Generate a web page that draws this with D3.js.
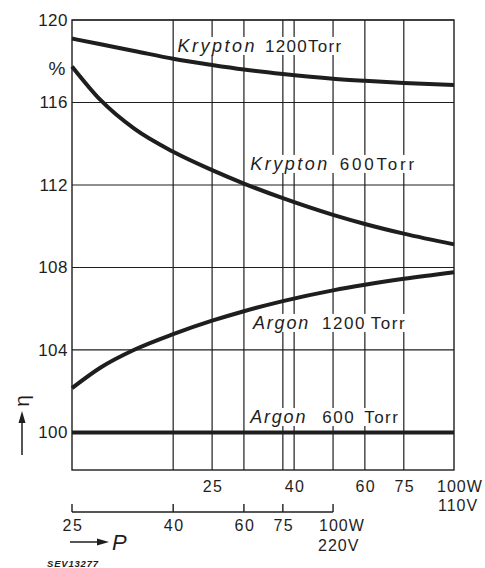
<!DOCTYPE html>
<html>
<head>
<meta charset="utf-8">
<script src="https://cdn.jsdelivr.net/npm/d3@7"></script>
<style>
    body { margin: 0; background: #fff; }
    svg { display: block; }
    text { font-family: "Liberation Sans", Arial, sans-serif; fill: #1e1e1e; }
</style>
</head>
<body>
<div id="chart"></div>
<script>
// power of the lamp on the 110 V scale (W)
const power = [11.2, 13.2, 16, 20, 25, 30, 37.5, 50, 60, 75, 100];
// relative luminous efficiency eta (%)
const krypton1200 = [119.1, 118.82, 118.5, 118.12, 117.82, 117.6, 117.38, 117.15, 117.05, 116.95, 116.85];
const krypton600 = [117.75, 116.11, 114.73, 113.61, 112.72, 112.07, 111.36, 110.55, 110.11, 109.64, 109.12];
const argon1200 = [102.15, 103.15, 104.01, 104.77, 105.42, 105.88, 106.37, 106.89, 107.16, 107.45, 107.77];
const argon600 = [100, 100, 100, 100, 100, 100, 100, 100, 100, 100, 100];

const yTicks = [100, 104, 108, 112, 116, 120];
const ticks110 = [25, 40, 60, 75, 100];
const ticks220 = [25, 40, 60, 75, 100];

const width = 485, height = 568;
const ink = "#1e1e1e";

let svg = d3.select("#chart").append("svg")
    .attr("width", width)
    .attr("height", height);

let x = d3.scaleLog().domain([11.2, 100]).range([72, 454]);
let y = d3.scaleLinear().domain([98.18, 120]).range([470, 20]);
// a 220 V lamp sits where the 110 V lamp of half the power sits (25 W drawn at the left edge)
let x220 = d3.scaleLog().domain([25, 40, 200]).range([x(11.2), x(20), x(100)]);

// grid
let grid = svg.append("g").attr("stroke", ink).attr("stroke-width", 1.2);

grid.selectAll(".hgrid")
    .data(yTicks)
    .enter().append("line")
    .attr("x1", x(11.2)).attr("x2", x(100))
    .attr("y1", d => y(d)).attr("y2", d => y(d));

let vgrid = ticks110.filter(d => d < 100).map(d => x(d))
    .concat(ticks220.filter(d => d > 25).map(d => x220(d)));

grid.selectAll(".vgrid")
    .data(vgrid)
    .enter().append("line")
    .attr("x1", d => d).attr("x2", d => d)
    .attr("y1", y(120)).attr("y2", y(98.18));

// frame
svg.append("rect")
    .attr("x", x(11.2)).attr("y", y(120))
    .attr("width", x(100) - x(11.2))
    .attr("height", y(98.18) - y(120))
    .attr("fill", "none")
    .attr("stroke", ink)
    .attr("stroke-width", 1.4);

// labels of the curves (white behind, like the original)
let labels = [
    {w: 20.5, v: 118.45, parts: [["Krypton", true, 2.5], ["1200Torr", false, 1.3]], gaps: [8]},
    {w: 31.1, v: 112.73, parts: [["Krypton", true, 2.5], ["600Torr", false, 2.8]], gaps: [10]},
    {w: 31.6, v: 105.02, parts: [["Argon", true, 1.8], ["1200", false, 1.5], ["Torr", false, 1.5]], gaps: [12, 5]},
    {w: 31.1, v: 100.46, parts: [["Argon", true, 1.8], ["600", false, 1.5], ["Torr", false, 1.5]], gaps: [15, 9]}
];

let labelG = svg.append("g");
labels.forEach(l => {
    let t = labelG.append("text")
        .attr("x", x(l.w))
        .attr("y", y(l.v));
    l.parts.forEach((p, i) => {
        t.append("tspan")
            .attr("dx", i === 0 ? 0 : l.gaps[i - 1])
            .attr("font-size", p[1] ? 18 : 17)
            .attr("font-style", p[1] ? "italic" : "normal")
            .attr("letter-spacing", p[2])
            .text(p[0]);
    });
    let bb = t.node().getBBox();
    labelG.insert("rect", "text")
        .attr("x", bb.x - 2).attr("y", bb.y + 1)
        .attr("width", bb.width + 4).attr("height", bb.height - 2)
        .attr("fill", "#fff");
});

// curves
let line = d3.line()
    .x((d, i) => x(power[i]))
    .y(d => y(d))
    .curve(d3.curveMonotoneX);

[krypton1200, krypton600, argon1200, argon600].forEach(s => {
    svg.append("path")
        .datum(s)
        .attr("d", line)
        .attr("fill", "none")
        .attr("stroke", ink)
        .attr("stroke-width", 4)
        .attr("stroke-linecap", "butt");
});

// y labels
svg.selectAll(".ylab")
    .data(yTicks)
    .enter().append("text")
    .attr("x", 68)
    .attr("y", d => y(d) + 6)
    .attr("text-anchor", "end")
    .attr("font-size", 17)
    .attr("letter-spacing", 0.5)
    .text(d => d);

svg.append("text")
    .attr("x", 57).attr("y", 75)
    .attr("text-anchor", "middle")
    .attr("font-size", 19)
    .text("%");

// eta arrow
svg.append("line")
    .attr("x1", 22).attr("x2", 22)
    .attr("y1", 455).attr("y2", 420)
    .attr("stroke", ink).attr("stroke-width", 1.5);
svg.append("path")
    .attr("d", "M22,411 L18.5,423 L25.5,423 Z")
    .attr("fill", ink);
svg.append("text")
    .attr("transform", "translate(29,401) rotate(-90)")
    .attr("text-anchor", "middle")
    .attr("font-size", 21)
    .text("η");

// 110 V scale
svg.selectAll(".x110")
    .data(ticks110.filter(d => d < 100))
    .enter().append("text")
    .attr("x", d => x(d) + 1)
    .attr("y", 492)
    .attr("text-anchor", "middle")
    .attr("font-size", 16)
    .attr("letter-spacing", 1.5)
    .text(d => d);

svg.append("text")
    .attr("x", x(100) - 17).attr("y", 492)
    .attr("font-size", 16)
    .attr("letter-spacing", 1)
    .text("100W");
svg.append("text")
    .attr("x", x(100) - 16).attr("y", 511)
    .attr("font-size", 16)
    .attr("letter-spacing", 1)
    .text("110V");

// 220 V scale
let ax = svg.append("g").attr("stroke", ink).attr("stroke-width", 1.4);
ax.append("line")
    .attr("x1", x220(25)).attr("x2", x220(100))
    .attr("y1", 512).attr("y2", 512);
ax.selectAll(".t220")
    .data(ticks220)
    .enter().append("line")
    .attr("x1", d => x220(d)).attr("x2", d => x220(d))
    .attr("y1", 512).attr("y2", 504);

svg.selectAll(".x220")
    .data(ticks220.filter(d => d < 100))
    .enter().append("text")
    .attr("x", d => x220(d) + 1)
    .attr("y", 531)
    .attr("text-anchor", "middle")
    .attr("font-size", 16)
    .attr("letter-spacing", 1.5)
    .text(d => d);

svg.append("text")
    .attr("x", x220(100) - 14).attr("y", 531)
    .attr("font-size", 16)
    .attr("letter-spacing", 1)
    .text("100W");
svg.append("text")
    .attr("x", x220(100) - 15).attr("y", 551)
    .attr("font-size", 16)
    .attr("letter-spacing", 1)
    .text("220V");

// P arrow
svg.append("line")
    .attr("x1", 70).attr("x2", 99)
    .attr("y1", 542).attr("y2", 542)
    .attr("stroke", ink).attr("stroke-width", 1.5);
svg.append("path")
    .attr("d", "M109,542 L97,538.5 L97,545.5 Z")
    .attr("fill", ink);
svg.append("text")
    .attr("x", 112).attr("y", 550)
    .attr("font-size", 22)
    .attr("font-style", "italic")
    .text("P");

svg.append("text")
    .attr("x", 47).attr("y", 567)
    .attr("font-size", 9.5)
    .attr("font-style", "italic")
    .attr("font-weight", "bold")
    .attr("letter-spacing", 0.8)
    .text("SEV13277");
</script>
</body>
</html>
